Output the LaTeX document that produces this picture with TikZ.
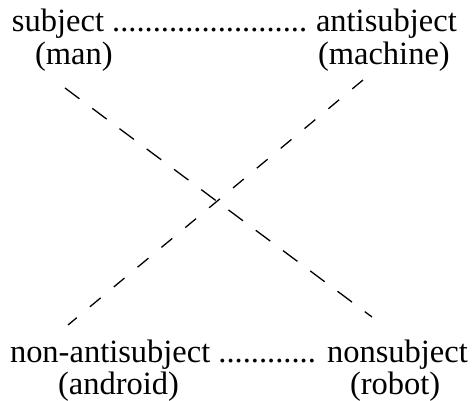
\documentclass[tikz,border=0pt]{standalone}
\usepackage{fontspec}
\setmainfont{Liberation Serif}
\begin{document}
\begin{tikzpicture}[x=1pt,y=1pt,
  lbl/.style={anchor=base west,inner sep=0pt,outer sep=0pt,font=\fontsize{32.5}{33}\selectfont},
  dashA/.style={line width=1.3pt,dash pattern=on 18pt off 16pt},
  dashB/.style={line width=1.3pt,dash pattern=on 14pt off 17pt}]
\useasboundingbox (0,0) rectangle (475,401);
% top row
\node[lbl] (subj) at (12,369) {subject};
\node[lbl] (dots1) at ([xshift=8.1pt]subj.base east) {........................};
\node[lbl] (anti) at (316,369) {antisubject};
\node[lbl] (man) at (35,336) {(man)};
\node[lbl] (machine) at (318,336) {(machine)};
% bottom row
\node[lbl] (nonanti) at (10,38) {non-antisubject};
\node[lbl] (dots2) at ([xshift=8.1pt]nonanti.base east) {............};
\node[lbl] (nonsubj) at (327,38) {nonsubject};
\node[lbl] (android) at (58,6) {(android)};
\node[lbl] (robot) at (350,6) {(robot)};
% diagonals
\coordinate (a1) at (65,313);
\coordinate (a2) at (372,84);
\coordinate (b1) at (363,321);
\coordinate (b2) at (68,76);
\draw[dashA] (a1) -- (a2);
\draw[dashB] (b1) -- (b2);
\end{tikzpicture}
\end{document}
